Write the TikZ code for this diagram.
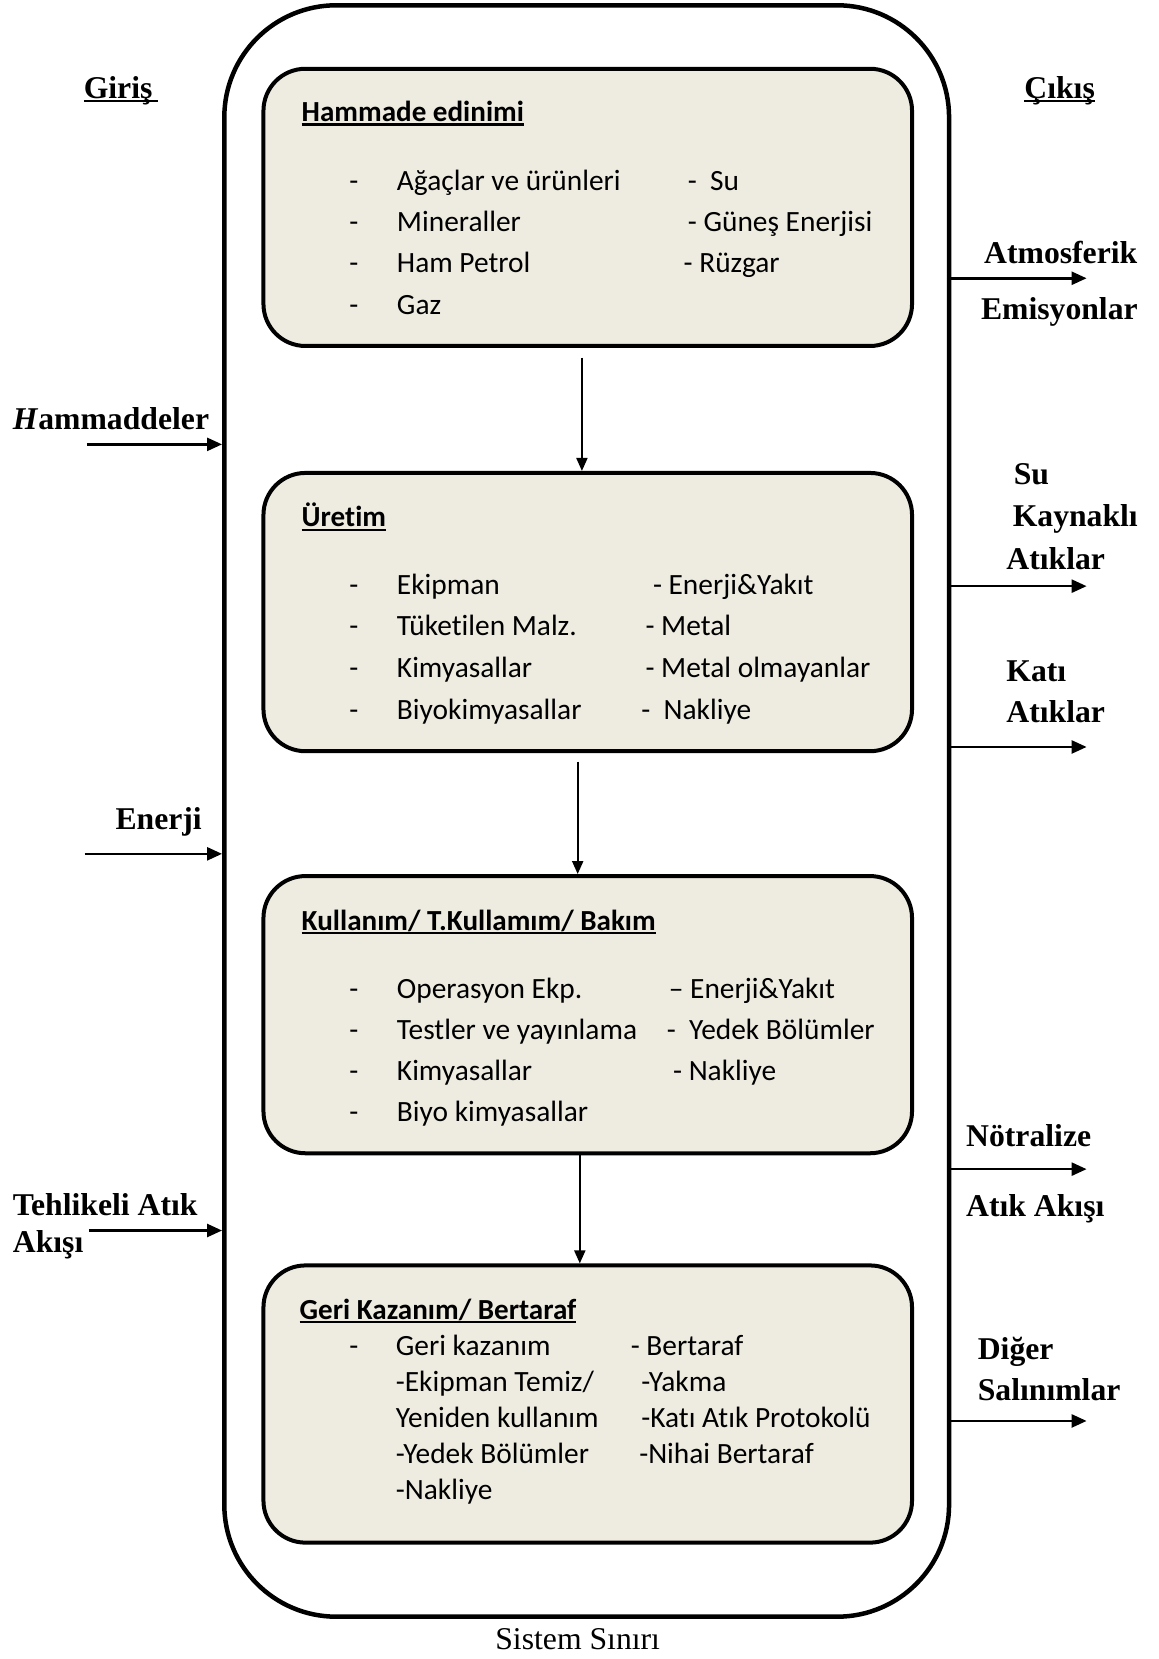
\documentclass[tikz,border=0pt]{standalone}
\usepackage{fontspec}
\setmainfont{Liberation Serif}
\newfontfamily\calibri[RawFeature={-liga;-clig;-dlig}]{Carlito}
\usetikzlibrary{arrows.meta,calc}
\definecolor{boxfill}{HTML}{EEECE1}
\def\pxu{1.0584pt}
\newsavebox\ulsave
\newcommand\ulx[2][0pt]{\sbox\ulsave{#2}\rlap{\usebox\ulsave}\rule[-4pt]{\dimexpr\wd\ulsave+#1\relax}{2.2pt}}
\tikzset{
  lab/.style={anchor=base west, inner sep=0pt, font=\fontsize{31.7}{36}\selectfont\bfseries},
  txt/.style={anchor=base west, inner sep=0pt, font=\calibri\fontsize{29.4}{35}\selectfont},
  ttl/.style={anchor=base west, inner sep=0pt, font=\calibri\fontsize{29.1}{35}\selectfont\bfseries},
  sysbox/.style={draw, line width=4.5pt, rounded corners=112pt, minimum width=685*\pxu, minimum height=1523*\pxu, inner sep=0pt},
  procbox/.style={draw, fill=boxfill, line width=4pt, rounded corners=42pt, minimum width=613*\pxu, inner sep=0pt},
  flow/.style={line width=2.5pt, -{Triangle[length=15pt,width=13pt]}},
  step2/.style={line width=2pt, -{Triangle[length=13pt,width=11pt]}}
}
\begin{document}
\begin{tikzpicture}[x=1.0584pt,y=-1.0584pt]
\useasboundingbox (0,0) rectangle (1095,1568);
% system boundary
\node[sysbox] (sys) at (554.5,766.5) {};
\node[anchor=base, inner sep=0pt, font=\fontsize{31.7}{36}\selectfont] (sysl) at (546,1559) {Sistem Sınırı};
% process boxes
\node[procbox, minimum height=262*\pxu] (b1) at (555.5,196) {};
\node[procbox, minimum height=263*\pxu] (b2) at (555.5,578.5) {};
\node[procbox, minimum height=262*\pxu] (b3) at (555.5,959) {};
\node[procbox, minimum height=262*\pxu] (b4) at (555.5,1327) {};
% box 1
\node[ttl] (t1) at (285,115) {\ulx{Hammade edinimi}};
\node[txt] (d11) at (330,180) {-};
\node[txt] (d12) at (330,219) {-};
\node[txt] (d13) at (330,258) {-};
\node[txt] (d14) at (330,297) {-};
\node[txt] (a11) at (375,180) {Ağaçlar ve ürünleri};
\node[txt] (a12) at (375,219) {Mineraller};
\node[txt] (a13) at (375,258) {Ham Petrol};
\node[txt] (a14) at (375,297) {Gaz};
\node[txt] (c11) at (650,180) {-~~Su};
\node[txt] (c12) at (650,219) {- Güneş Enerjisi};
\node[txt] (c13) at (646,258) {- Rüzgar};
% box 2
\node[ttl] (t2) at (285,498) {\ulx{Üretim}};
\node[txt] (d21) at (330,562) {-};
\node[txt] (d22) at (330,601) {-};
\node[txt] (d23) at (330,640) {-};
\node[txt] (d24) at (330,680) {-};
\node[txt] (a21) at (375,562) {Ekipman};
\node[txt] (a22) at (375,601) {Tüketilen Malz.};
\node[txt] (a23) at (375,640) {Kimyasallar};
\node[txt] (a24) at (375,680) {Biyokimyasallar};
\node[txt] (c21) at (617,562) {- Enerji\&Yakıt};
\node[txt] (c22) at (610,601) {- Metal};
\node[txt] (c23) at (610,640) {- Metal olmayanlar};
\node[txt] (c24) at (606,680) {-~~Nakliye};
% box 3
\node[ttl] (t3) at (285,879) {\ulx{Kullanım/ T.Kullamım/ Bakım}};
\node[txt] (d31) at (330,944) {-};
\node[txt] (d32) at (330,982) {-};
\node[txt] (d33) at (330,1021) {-};
\node[txt] (d34) at (330,1060) {-};
\node[txt] (a31) at (375,944) {Operasyon Ekp.};
\node[txt] (a32) at (375,982) {Testler ve yayınlama};
\node[txt] (a33) at (375,1021) {Kimyasallar};
\node[txt] (a34) at (375,1060) {Biyo kimyasallar};
\node[txt] (c31) at (632,944) {– Enerji\&Yakıt};
\node[txt] (c32) at (630,982) {-~~Yedek Bölümler};
\node[txt] (c33) at (636,1021) {- Nakliye};
% box 4
\node[ttl] (t4) at (283,1247) {\ulx{Geri Kazanım/ Bertaraf}};
\node[txt] (d41) at (330,1281) {-};
\node[txt] (a41) at (374,1281) {Geri kazanım};
\node[txt] (a42) at (374,1315) {-Ekipman Temiz/};
\node[txt] (a43) at (374,1349) {Yeniden kullanım};
\node[txt] (a44) at (374,1383) {-Yedek Bölümler};
\node[txt] (a45) at (374,1417) {-Nakliye};
\node[txt] (c41) at (596,1281) {- Bertaraf};
\node[txt] (c42) at (606,1315) {-Yakma};
\node[txt] (c43) at (606,1349) {-Katı Atık Protokolü};
\node[txt] (c44) at (604,1383) {-Nihai Bertaraf};
% arrows between boxes
\draw[step2] ([xshift=-5.5*\pxu,yshift=-9*\pxu]b1.south) -- ([xshift=-5.5*\pxu]b2.north);
\draw[step2] ([xshift=-9.5*\pxu,yshift=-8*\pxu]b2.south) -- ([xshift=-9.5*\pxu]b3.north);
\draw[step2] ([xshift=-7.5*\pxu]b3.south) -- ([xshift=-7.5*\pxu]b4.north);
% left labels
\node[lab] (giris) at (79,93) {\ulx[6pt]{Giriş}};
\node[lab] (ham) at (12,406) {\textit{H}ammaddeler};
\node[lab] (ener) at (109,784) {Enerji};
\node[lab] (teh1) at (12,1149) {Tehlikeli Atık};
\node[lab] (teh2) at (12,1184) {Akışı};
\coordinate (inH) at (82,420);
\coordinate (inE) at (80,807);
\coordinate (inT) at (84,1163);
\draw[flow] (inH) -- (inH -| sys.west);
\draw[flow] (inE) -- (inE -| sys.west);
\draw[flow] (inT) -- (inT -| sys.west);
% right labels
\node[lab] (cikis) at (968,93) {\ulx{Çıkış}};
\node[lab] (atm1) at (930,249) {Atmosferik};
\node[lab] (atm2) at (927,302) {Emisyonlar};
\node[lab] (su1) at (958,458) {Su};
\node[lab] (su2) at (957,498) {Kaynaklı};
\node[lab] (su3) at (951,538) {Atıklar};
\node[lab] (kat1) at (951,644) {Katı};
\node[lab] (kat2) at (951,683) {Atıklar};
\node[lab] (not1) at (913,1084) {Nötralize};
\node[lab] (not2) at (913,1150) {Atık Akışı};
\node[lab] (dig1) at (924,1285) {Diğer};
\node[lab] (dig2) at (924,1324) {Salınımlar};
\coordinate (oA) at (1027,263);
\coordinate (oS) at (1027,554);
\coordinate (oK) at (1027,706);
\coordinate (oN) at (1027,1105);
\coordinate (oD) at (1027,1343);
\draw[flow] (oA -| sys.east) -- (oA);
\draw[flow] (oS -| sys.east) -- (oS);
\draw[flow] (oK -| sys.east) -- (oK);
\draw[flow] (oN -| sys.east) -- (oN);
\draw[flow] (oD -| sys.east) -- (oD);
\end{tikzpicture}
\end{document}
